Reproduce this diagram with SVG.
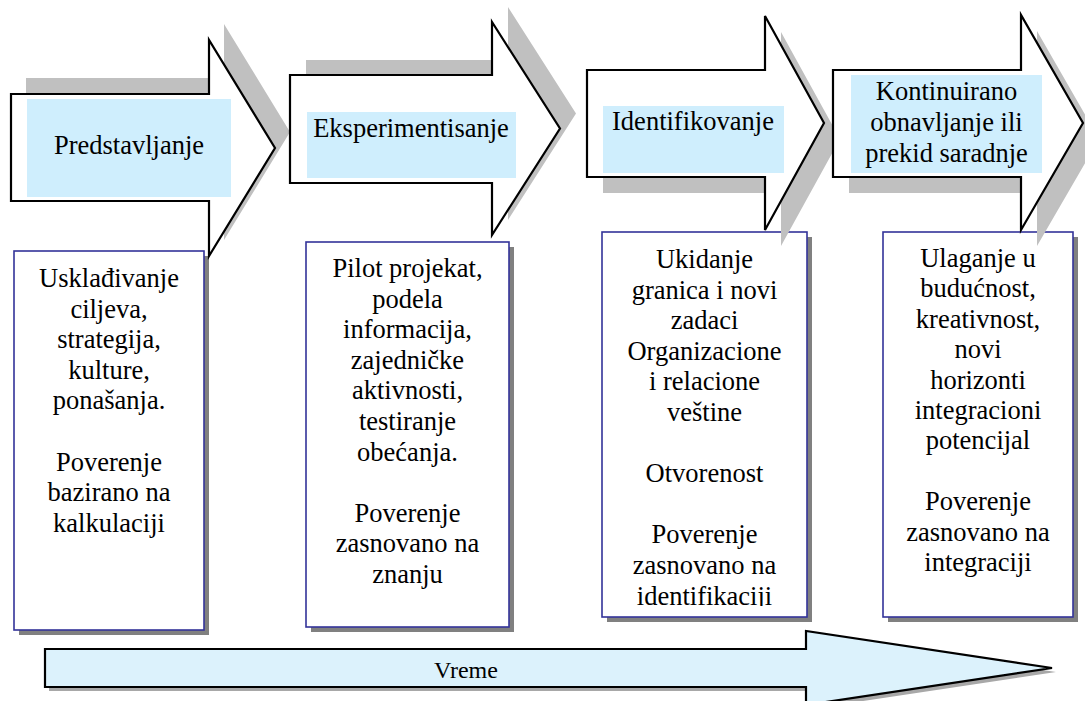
<svg xmlns="http://www.w3.org/2000/svg" width="1085" height="701" viewBox="0 0 1085 701">
<style>
.shadow{fill:#c0c0c0;stroke:none}
.arrow{fill:#ffffff;stroke:#000000;stroke-width:2.2;stroke-linejoin:miter}
.lbl{fill:#cfeefd;stroke:none}
.t{font-family:'Liberation Serif','Times New Roman',Times,'DejaVu Serif',serif;font-size:26.5px;fill:#000;text-anchor:middle}
.box{fill:#ffffff;stroke:#333399;stroke-width:1.6}
.bshadow{fill:#808080;stroke:none}
</style>
<defs>
<clipPath id="clip3"><rect x="602" y="232" width="205" height="374"/></clipPath>
</defs>
<rect width="1085" height="701" fill="#ffffff"/>

<g id="box1">
<rect class="bshadow" x="19" y="256" width="190" height="379"/>
<rect class="box" x="14" y="251" width="190" height="379"/>
<text class="t" font-family="Liberation Serif, serif"><tspan x="109" y="287">Usklađivanje</tspan><tspan x="109" y="317.6">ciljeva,</tspan><tspan x="109" y="348.2">strategija,</tspan><tspan x="109" y="378.8">kulture,</tspan><tspan x="109" y="409.4">ponašanja.</tspan><tspan x="109" y="470.6">Poverenje</tspan><tspan x="109" y="501.2">bazirano na</tspan><tspan x="109" y="531.8">kalkulaciji</tspan></text>
</g>

<g id="box2">
<rect class="bshadow" x="311" y="247" width="203" height="385"/>
<rect class="box" x="306" y="242" width="203" height="385"/>
<text class="t"><tspan x="407.5" y="277">Pilot projekat,</tspan><tspan x="407.5" y="307.6">podela</tspan><tspan x="407.5" y="338.2">informacija,</tspan><tspan x="407.5" y="368.8">zajedničke</tspan><tspan x="407.5" y="399.4">aktivnosti,</tspan><tspan x="407.5" y="430">testiranje</tspan><tspan x="407.5" y="460.6">obećanja.</tspan><tspan x="407.5" y="521.8">Poverenje</tspan><tspan x="407.5" y="552.4">zasnovano na</tspan><tspan x="407.5" y="583">znanju</tspan></text>
</g>

<g id="box3">
<rect class="bshadow" x="607" y="237" width="205" height="385"/>
<rect class="box" x="602" y="232" width="205" height="385"/>
<text class="t" clip-path="url(#clip3)"><tspan x="704.5" y="268">Ukidanje</tspan><tspan x="704.5" y="298.6">granica i novi</tspan><tspan x="704.5" y="329.2">zadaci</tspan><tspan x="704.5" y="359.8">Organizacione</tspan><tspan x="704.5" y="390.4">i relacione</tspan><tspan x="704.5" y="421">veštine</tspan><tspan x="704.5" y="482.2">Otvorenost</tspan><tspan x="704.5" y="543.4">Poverenje</tspan><tspan x="704.5" y="574">zasnovano na</tspan><tspan x="704.5" y="604.6">identifikaciji</tspan></text>
</g>

<g id="box4">
<rect class="bshadow" x="888" y="237" width="190" height="385"/>
<rect class="box" x="883" y="232" width="190" height="385"/>
<text class="t"><tspan x="978" y="267">Ulaganje u</tspan><tspan x="978" y="297.4">budućnost,</tspan><tspan x="978" y="327.8">kreativnost,</tspan><tspan x="978" y="358.2">novi</tspan><tspan x="978" y="388.6">horizonti</tspan><tspan x="978" y="419">integracioni</tspan><tspan x="978" y="449.4">potencijal</tspan><tspan x="978" y="510.2">Poverenje</tspan><tspan x="978" y="540.6">zasnovano na</tspan><tspan x="978" y="571">integraciji</tspan></text>
</g>

<g id="connectors">
<g id="phase1">
<path class="shadow" transform="translate(15,-16)" d="M11,94 H209 V40 L275,148 L209,256 V201 H11 Z"/>
<path class="arrow" d="M11,94 H209 V40 L275,148 L209,256 V201 H11 Z"/>
<rect class="lbl" x="27" y="99" width="204" height="98"/>
<text class="t" x="129" y="154">Predstavljanje</text>
</g>
<g id="phase2">
<path class="shadow" transform="translate(16,-15)" d="M290,75 H492 V22 L560,128.5 L492,235 V183 H290 Z"/>
<path class="arrow" d="M290,75 H492 V22 L560,128.5 L492,235 V183 H290 Z"/>
<rect class="lbl" x="307" y="112" width="209" height="66"/>
<text class="t" x="411" y="137">Eksperimentisanje</text>
</g>
<g id="phase3">
<path class="shadow" transform="translate(16,16)" d="M587,70 H765 V16 L824,123 L765,230 V177 H587 Z"/>
<path class="arrow" d="M587,70 H765 V16 L824,123 L765,230 V177 H587 Z"/>
<rect class="lbl" x="603" y="106" width="181" height="67"/>
<text class="t" x="693" y="130">Identifikovanje</text>
</g>
<g id="phase4">
<path class="shadow" transform="translate(16,16)" d="M833,70 H1021 V15 L1083,123 L1021,230 V177 H833 Z"/>
<path class="arrow" d="M833,70 H1021 V15 L1083,123 L1021,230 V177 H833 Z"/>
<rect class="lbl" x="851" y="75" width="191" height="98"/>
<text class="t"><tspan x="946.5" y="100">Kontinuirano</tspan><tspan x="946.5" y="131">obnavljanje ili</tspan><tspan x="946.5" y="162">prekid saradnje</tspan></text>
</g>
<g id="time">
<path fill="#a8a8a8" transform="translate(4,4)" d="M45,649 H806 V631 L1052,668 L806,705 V687 H45 Z"/>
<path fill="#dcf2fc" stroke="#000" stroke-width="2.2" d="M45,649 H806 V631 L1052,668 L806,705 V687 H45 Z"/>
<text class="t" style="font-size:24px" x="466" y="678">Vreme</text>
</g>
</g>
</svg>
